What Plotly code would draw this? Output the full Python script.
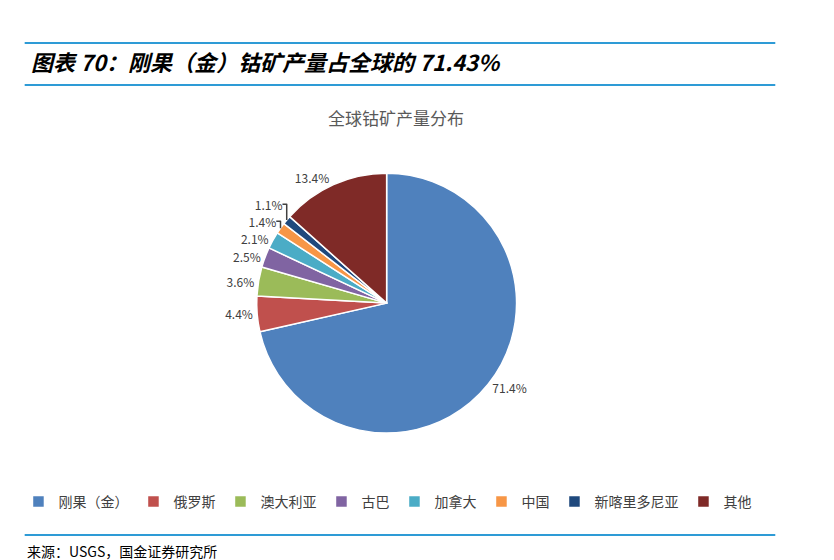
import plotly.graph_objects as go

labels = ["刚果（金）", "俄罗斯", "澳大利亚", "古巴", "加拿大", "中国", "新喀里多尼亚", "其他"]
values = [71.4, 4.4, 3.6, 2.5, 2.1, 1.4, 1.1, 13.4]
colors = ["#4F81BD", "#C0504D", "#9BBB59", "#8064A2", "#4BACC6", "#F79646", "#1F497D", "#7F2A27"]

font = "Noto Sans CJK SC"
fig = go.Figure(go.Pie(
    labels=labels, values=values, sort=False, direction="clockwise", rotation=0,
    marker=dict(colors=colors, line=dict(color="white", width=1.5)),
    texttemplate="%{value:.1f}%", textposition="outside",
    textfont=dict(size=12, color="#404040", family=font),
    domain=dict(x=[0.298, 0.610], y=[0.241, 0.705]),
    hoverinfo="label+value",
))
shapes = [
    dict(type="line", xref="paper", yref="paper", x0=0.02, x1=0.92, y0=1-35/560, y1=1-35/560, line=dict(color="#2E9BD6", width=2)),
    dict(type="line", xref="paper", yref="paper", x0=0.02, x1=0.92, y0=1-77/560, y1=1-77/560, line=dict(color="#2E9BD6", width=2)),
    dict(type="line", xref="paper", yref="paper", x0=0.02, x1=0.92, y0=1-527/560, y1=1-527/560, line=dict(color="#2E9BD6", width=2)),
]
annotations = [
    dict(text="<b><i>图表 70：刚果（金）钴矿产量占全球的 71.43%</i></b>", xref="paper", yref="paper",
         x=0.025, y=1-53/560, xanchor="left", yanchor="middle", showarrow=False,
         font=dict(size=22, color="black", family=font)),
    dict(text="全球钴矿产量分布", xref="paper", yref="paper", x=0.465, y=1-110/560,
         xanchor="center", yanchor="middle", showarrow=False, font=dict(size=17, color="#595959", family=font)),
    dict(text="来源：USGS，国金证券研究所", xref="paper", yref="paper", x=0.02, y=1-543/560,
         xanchor="left", yanchor="middle", showarrow=False, font=dict(size=14, color="black", family=font)),
]
fig.update_layout(
    width=834, height=560, margin=dict(l=0, r=0, t=0, b=0),
    paper_bgcolor="white", plot_bgcolor="white",
    shapes=shapes, annotations=annotations,
    legend=dict(orientation="h", x=0.455, xanchor="center", y=1-494/560, yanchor="middle",
                font=dict(size=14, color="#404040", family=font), itemwidth=30),
)
fig.write_html("out.html")
